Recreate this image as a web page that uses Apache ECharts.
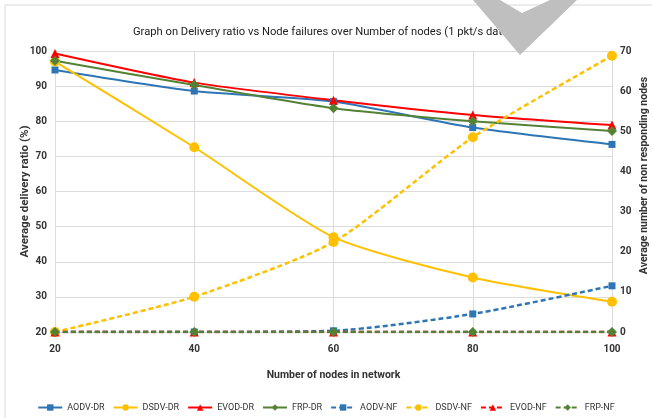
<!DOCTYPE html>
<html>
<head>
    <meta charset='utf-8'>
    <script src="https://cdn.jsdelivr.net/npm/echarts@6/dist/echarts.min.js"></script>
</head>
<body>
<style>
    html, body, #main {
        width: 100%;
        height: 100%;
        margin: 0;
        padding: 0;
        background: #fff;
    }
</style>
<div id="main"></div>
<script>
    var nodes = ['20', '40', '60', '80', '100'];

    // delivery ratio (%), left axis
    var aodvDR = [94.6, 88.6, 85.6, 78.2, 73.4];
    var dsdvDR = [97.0, 72.6, 47.0, 35.5, 28.6];
    var evodDR = [99.3, 91.0, 86.0, 81.8, 78.9];
    var frpDR = [97.2, 90.3, 83.7, 80.0, 77.2];

    // non responding nodes, right axis
    var aodvNF = [0, 0, 0.3, 4.5, 11.5];
    var dsdvNF = [0, 8.8, 22.4, 48.5, 68.8];
    var evodNF = [0, 0, 0, 0, 0];
    var frpNF = [0, 0, 0, 0, 0];

    var font = '"Liberation Sans Narrow", "Arial Narrow", "Roboto", sans-serif';
    var blue = '#2e75b6', yellow = '#ffc000', red = '#ff0000', green = '#548235';

    function line(name, data, color, symbol, size, axis, dashed) {
        return {
            name: name,
            type: 'line',
            yAxisIndex: axis,
            data: data,
            smooth: 0.22,
            symbol: symbol,
            symbolSize: size,
            showAllSymbol: true,
            itemStyle: {color: color},
            lineStyle: {color: color, width: dashed ? 2.5 : 2, type: dashed ? [5, 3] : 'solid'}
        };
    }

    var chart = echarts.init(document.getElementById('main'));

    chart.setOption({
        animation: false,
        title: {
            text: 'Graph on Delivery ratio vs Node failures over Number of nodes (1 pkt/s data rate)',
            left: 128,
            top: 22,
            textStyle: {fontFamily: font, fontSize: 11.2, fontWeight: 'normal', color: '#222'}
        },
        grid: {left: 55, right: 40, top: 51, bottom: 86, outerBoundsMode: 'none'},
        legend: {
            top: 398,
            left: 'center',
            itemWidth: 24,
            itemHeight: 8,
            itemGap: 8,
            textStyle: {fontFamily: font, fontSize: 9, color: '#333'},
            data: ['AODV-DR', 'DSDV-DR', 'EVOD-DR', 'FRP-DR', 'AODV-NF', 'DSDV-NF', 'EVOD-NF', 'FRP-NF']
        },
        xAxis: {
            type: 'category',
            data: nodes,
            boundaryGap: false,
            name: 'Number of nodes in network',
            nameLocation: 'middle',
            nameGap: 38,
            nameTextStyle: {fontFamily: font, fontSize: 10.5, fontWeight: 'bold', color: '#333'},
            axisLine: {show: false},
            axisTick: {show: false},
            axisLabel: {fontFamily: font, fontSize: 10, fontWeight: 'bold', color: '#333', margin: 12},
            splitLine: {show: true, lineStyle: {color: '#dcdcdc'}}
        },
        yAxis: [{
            type: 'value',
            min: 20,
            max: 100,
            interval: 10,
            name: 'Average delivery ratio (%)',
            nameLocation: 'middle',
            nameRotate: 90,
            nameGap: 24,
            nameMoveOverlap: false,
            nameTextStyle: {fontFamily: font, fontSize: 11.5, fontWeight: 'bold', color: '#333'},
            axisLine: {show: false},
            axisTick: {show: false},
            axisLabel: {fontFamily: font, fontSize: 10, fontWeight: 'bold', color: '#333', margin: 8},
            splitLine: {lineStyle: {color: '#dcdcdc'}}
        }, {
            type: 'value',
            min: 0,
            max: 70,
            interval: 10,
            position: 'right',
            name: 'Average number of non responding nodes',
            nameLocation: 'middle',
            nameRotate: 90,
            nameGap: 27,
            nameMoveOverlap: false,
            nameTextStyle: {fontFamily: font, fontSize: 10.5, fontWeight: 'bold', color: '#333', padding: [0, 0, 0, 32]},
            axisLine: {show: false},
            axisTick: {show: false},
            axisLabel: {fontFamily: font, fontSize: 10, fontWeight: 'bold', color: '#333', margin: 8},
            splitLine: {show: false}
        }],
        series: [
            line('AODV-DR', aodvDR, blue, 'rect', 7, 0, false),
            line('DSDV-DR', dsdvDR, yellow, 'circle', 10, 0, false),
            line('EVOD-DR', evodDR, red, 'triangle', 9, 0, false),
            line('FRP-DR', frpDR, green, 'diamond', 10, 0, false),
            line('AODV-NF', aodvNF, blue, 'rect', 7, 1, true),
            line('DSDV-NF', dsdvNF, yellow, 'circle', 10, 1, true),
            line('EVOD-NF', evodNF, red, 'triangle', 9, 1, true),
            line('FRP-NF', frpNF, green, 'diamond', 10, 1, true)
        ],
        graphic: [{
            type: 'rect',
            shape: {x: 5, y: 5, width: 700, height: 450},
            style: {fill: 'none', stroke: '#d9d9d9', lineWidth: 1},
            silent: true
        }, {
            // grey watermark over the end of the title
            type: 'polygon',
            z: 100,
            shape: {points: [[473, 0], [500, 0], [522, 13], [550, 0], [577, 0], [520, 55]]},
            style: {fill: '#bfbfbf'},
            silent: true
        }]
    });
</script>
</body>
</html>
